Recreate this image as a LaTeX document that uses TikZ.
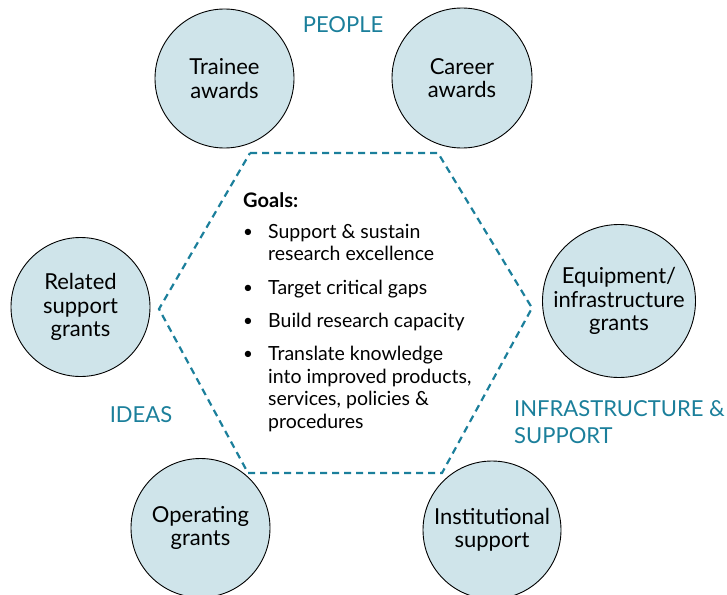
\documentclass[tikz,border=0pt]{standalone}
\usepackage{fontspec}
\setmainfont{Lato}
\usetikzlibrary{positioning}

\definecolor{tealline}{HTML}{1B7F9B}
\definecolor{bubblefill}{HTML}{CFE4EA}

\tikzset{
  bubble/.style={circle, draw=black, line width=0.9pt, fill=bubblefill,
    inner sep=0pt, align=center, font=\fontsize{22}{23.5}\selectfont},
  area/.style={text=tealline, align=left, inner sep=0pt,
    font=\fontsize{22}{27}\selectfont},
  goal/.style={anchor=north west, align=left, inner sep=0pt,
    font=\fontsize{19.5}{22.5}\selectfont},
  dot/.style={inner sep=0pt, font=\fontsize{17}{22.5}\selectfont},
  hexline/.style={draw=tealline, line width=2.2pt, dash pattern=on 7pt off 5pt}
}

\begin{document}
\begin{tikzpicture}[x=1pt, y=-1pt]
  \useasboundingbox (0,0) rectangle (727,594);

  % the hexagon round the goals
  \coordinate (H1) at (250,153);
  \coordinate (H2) at (438,153);
  \coordinate (H3) at (532,308);
  \coordinate (H4) at (442,473);
  \coordinate (H5) at (248,473);
  \coordinate (H6) at (159,309);
  \draw[hexline] (H1) -- (H2) -- (H3) -- (H4) -- (H5) -- (H6) -- cycle;

  % funding circles
  \node[bubble, minimum size=139pt] (trainee) at (224.5,78.5) {Trainee\\awards};
  \node[bubble, minimum size=140pt] (career) at (462,78) {Career\\awards};
  \node[bubble, minimum size=139pt] (related) at (80.5,307) {Related\\support\\grants};
  \node[bubble, minimum size=153pt] (equip) at (619,301) {Equipment/\\infrastructure\\grants};
  \node[bubble, minimum size=139pt] (operating) at (200.5,528) {Operating\\grants};
  \node[bubble, minimum size=138pt] (institution) at (492,530) {Institutional\\support};

  % area labels
  \node[area] (people) at (343,25) {PEOPLE};
  \node[area] (ideas) at (141,415) {IDEAS};
  \node[area, anchor=north west] (infra) at (514,400) {INFRASTRUCTURE \&\\SUPPORT};

  % goals
  \node[goal, font=\fontsize{20}{22.5}\selectfont\bfseries] (goals) at (243,192) {Goals:};
  \node[dot] (b1) at (248,233) {•};
  \node[goal] (g1) at (268,224) {Support \& sustain\\research excellence};
  \node[dot] (b2) at (248,289) {•};
  \node[goal] (g2) at (268,280) {Target critical gaps};
  \node[dot] (b3) at (248,322) {•};
  \node[goal] (g3) at (268,313) {Build research capacity};
  \node[dot] (b4) at (248,355) {•};
  \node[goal] (g4) at (268,346) {Translate knowledge\\into improved products,\\services, policies \&\\procedures};
\end{tikzpicture}
\end{document}
